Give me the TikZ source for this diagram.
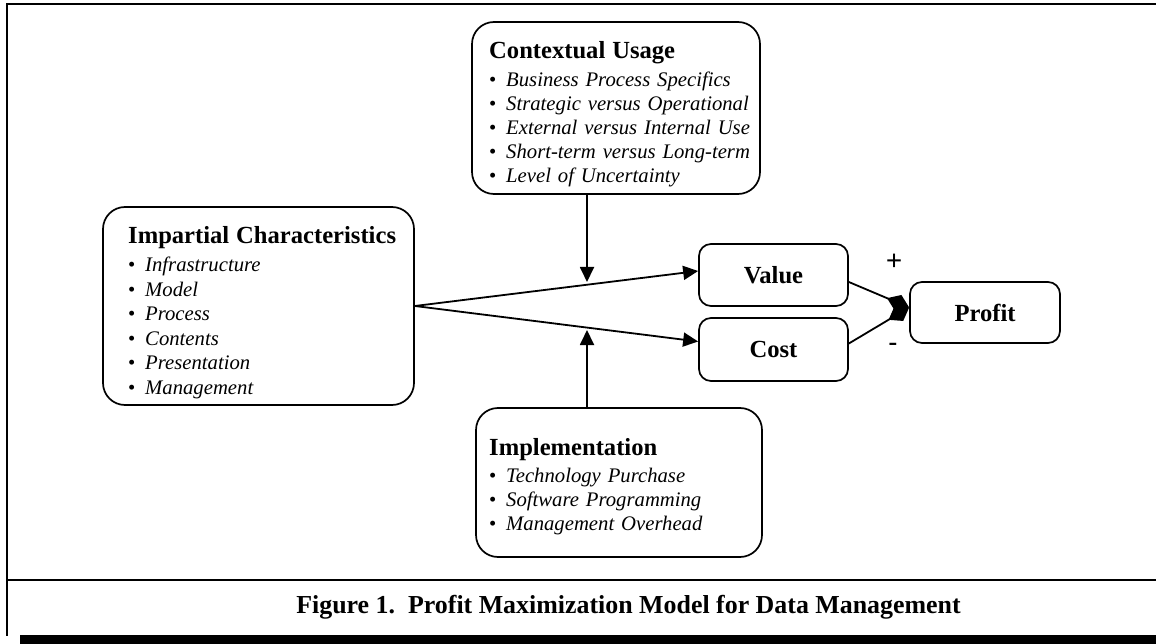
\documentclass[tikz,border=0pt]{standalone}
\usepackage{fontspec}
\setmainfont{Liberation Serif}
\usetikzlibrary{arrows.meta,calc}

% heading of a box and one bulleted, italic entry
\newcommand\boxhead[1]{{\fontsize{24.6}{28}\selectfont\bfseries #1}}
\newcommand\bulletitem[1]{\makebox[17pt][l]{\textbullet}\textit{#1}}

\begin{document}
\begin{tikzpicture}[x=1pt,y=-1pt,
  bigbox/.style={draw, line width=1.7pt, rounded corners=22pt, inner sep=0pt},
  smallbox/.style={draw, line width=1.7pt, rounded corners=12pt, inner sep=0pt,
    font=\fontsize{24.6}{28}\selectfont\bfseries},
  listtext/.style={anchor=base west, inner sep=0pt, align=left, text width=#1,
    font=\fontsize{20.7}{24}\selectfont},
  arr/.style={line width=1.8pt, -{Triangle[length=15pt,width=14pt]}},
  dia/.style={line width=1.8pt, -{Diamond[length=24pt,width=17pt]}},
  sign/.style={inner sep=0pt, font=\fontsize{26}{30}\selectfont\bfseries},
]
\useasboundingbox (0,0) rectangle (1156,644);
\fill[white] (0,0) rectangle (1156,644);

% frame, caption rule and shadow bar
\draw[line width=2.4pt] (1156,4) -- (7,4) -- (7,636);
\draw[line width=2pt] (7,580) -- (1156,580);
\fill[black] (20,635) rectangle (1156,644);

% boxes
\node[bigbox, minimum width=288pt, minimum height=172pt] (ctx) at (616,108) {};
\node[bigbox, minimum width=311pt, minimum height=198pt] (imp) at (258.5,306) {};
\node[bigbox, minimum width=286pt, minimum height=149pt] (impl) at (619,482.5) {};
\node[smallbox, minimum width=149pt, minimum height=62pt] (val) at (773.5,275) {Value};
\node[smallbox, minimum width=149pt, minimum height=63pt] (cost) at (773.5,349.5) {Cost};
\node[smallbox, minimum width=150pt, minimum height=61pt] (prof) at (985,312.5) {Profit};

% box contents
\node[listtext=265pt] (ctxtext) at (489,59) {%
  \boxhead{Contextual Usage}\\[4pt]
  \bulletitem{Business Process Specifics}\\
  \bulletitem{Strategic versus Operational}\\
  \bulletitem{External versus Internal Use}\\
  \bulletitem{Short-term versus Long-term}\\
  \bulletitem{Level of Uncertainty}};
\node[listtext=280pt, font=\fontsize{20.7}{24.5}\selectfont] (imptext) at (128,244) {%
  \boxhead{Impartial Characteristics}\\[3pt]
  \bulletitem{Infrastructure}\\
  \bulletitem{Model}\\
  \bulletitem{Process}\\
  \bulletitem{Contents}\\
  \bulletitem{Presentation}\\
  \bulletitem{Management}};
\node[listtext=260pt] (impltext) at (489,455) {%
  \boxhead{Implementation}\\[3pt]
  \bulletitem{Technology Purchase}\\
  \bulletitem{Software Programming}\\
  \bulletitem{Management Overhead}};

% connectors
\coordinate (ctxtip) at (587,282);
\coordinate (impltip) at (587,330);
\draw[arr] (ctxtip |- ctx.south) -- (ctxtip);
\draw[arr] (impltip |- impl.north) -- (impltip);
\draw[arr] (imp.east) -- ($(val.west)+(0,-4)$);
\draw[arr] (imp.east) -- ($(cost.west)+(0,-8)$);
\coordinate (join) at ($(prof.west)+(0,-5)$);
\draw[dia] ($(val.east)+(0,7)$) -- (join);
\draw[dia] ($(cost.east)+(0,-6)$) -- (join);

% signs
\node[sign, font=\fontsize{29}{32}\selectfont\bfseries] (plus) at (894,262) {+};
\node[sign] (minus) at (893,347) {-};

% caption
\node[inner sep=0pt, font=\fontsize{25.9}{30}\selectfont\bfseries] (caption) at (628.5,607)
  {Figure 1.\ \ Profit Maximization Model for Data Management};
\end{tikzpicture}
\end{document}
